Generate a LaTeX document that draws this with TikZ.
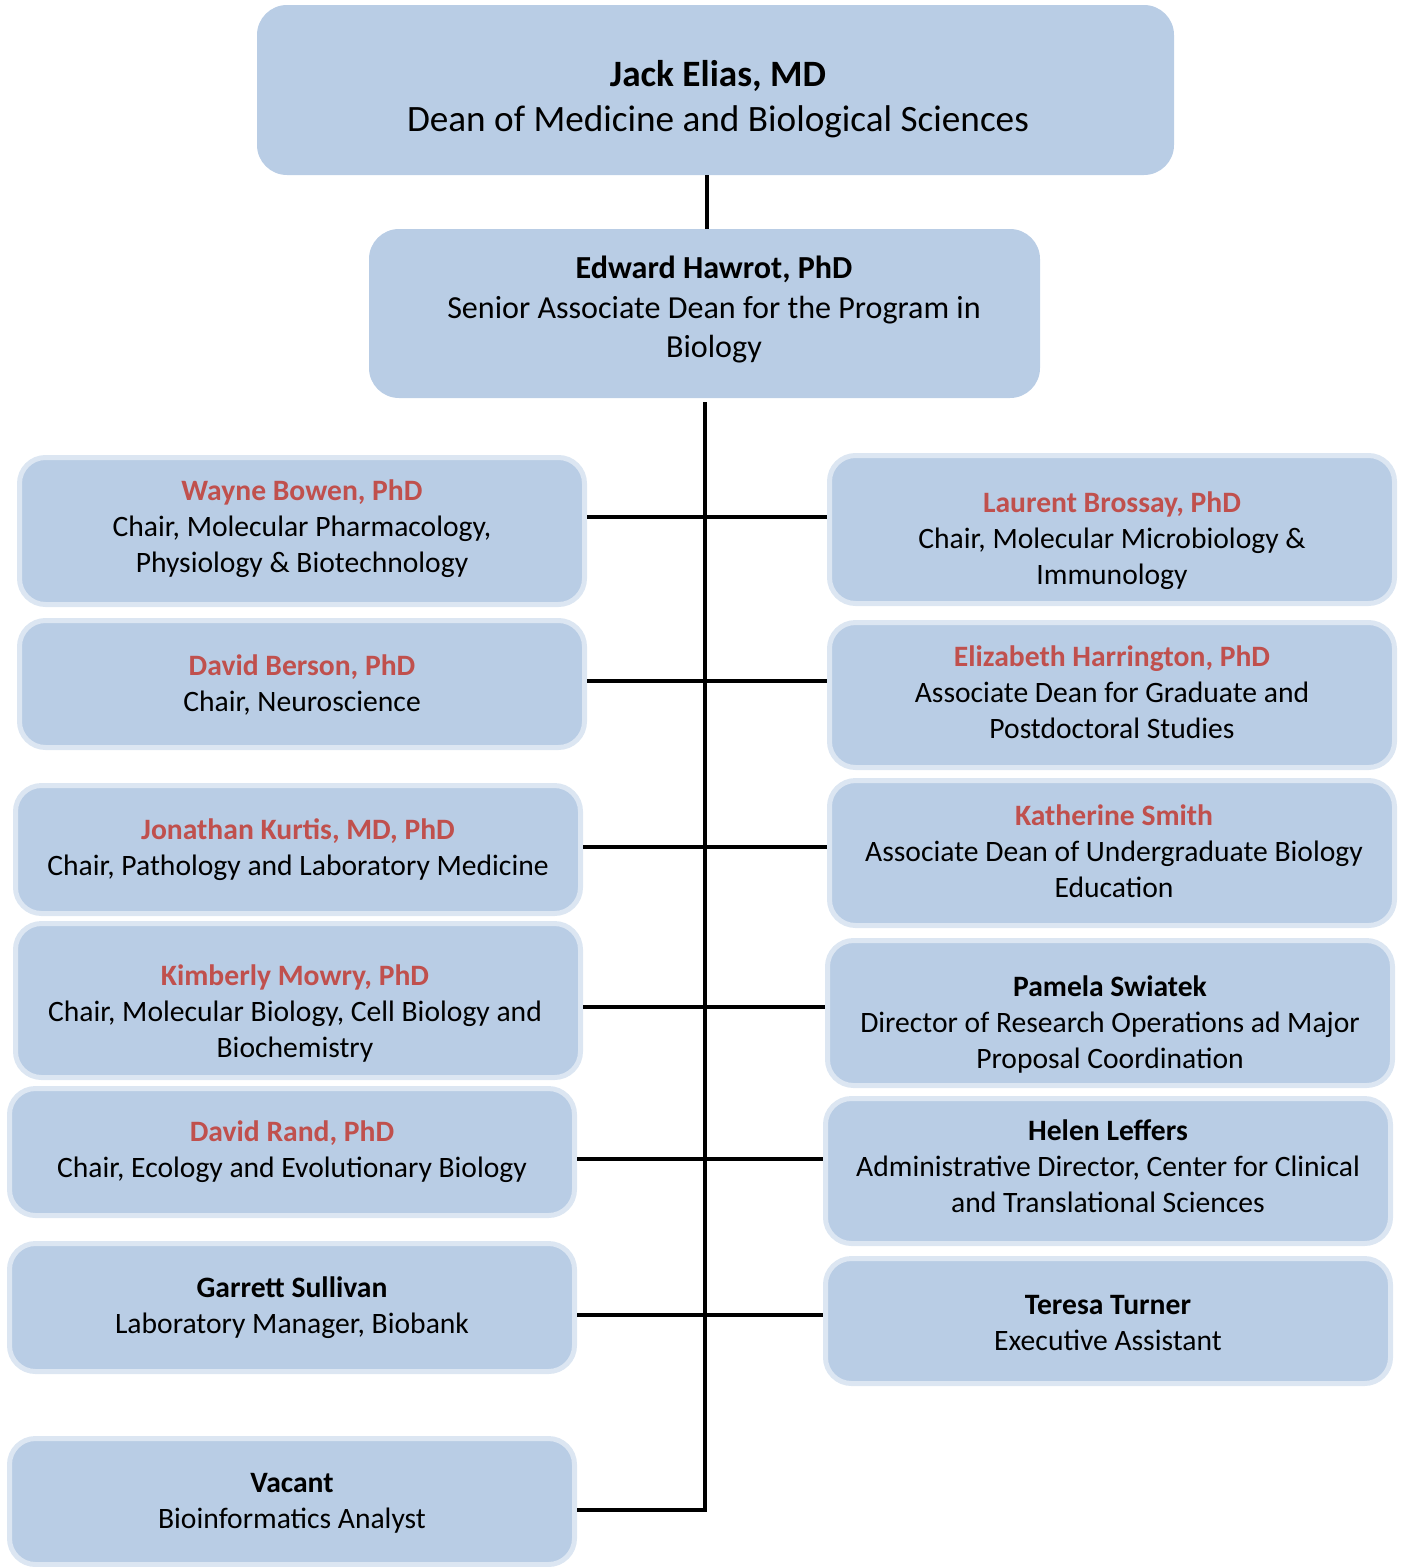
\documentclass[tikz,border=0pt]{standalone}
\usepackage{fontspec}
\setmainfont{Carlito}
\definecolor{boxc}{HTML}{B9CDE5}
\definecolor{haloc}{HTML}{DCE6F2}
\definecolor{namec}{HTML}{C0504D}
\newcommand{\rn}[1]{\textbf{\color{namec}#1}}
\begin{document}
\begin{tikzpicture}[x=1pt,y=-1pt,
  topbox/.style={fill=boxc, rounded corners=30pt, inner sep=0pt},
  orgbox/.style={fill=boxc, draw=haloc, line width=5pt, rounded corners=26pt, inner sep=0pt,
    minimum width=565pt},
  txt/.style={align=center, inner sep=0pt, yshift=-3pt, font=\fontsize{29.6}{36}\selectfont},
  link/.style={line width=4.5pt, black}]
\useasboundingbox (0,0) rectangle (1403,1567);

% top of the hierarchy
\node[topbox, minimum width=917pt, minimum height=170pt] (jack) at (715.5,90) {};
\node[txt, font=\fontsize{37.2}{45}\selectfont] (jackt) at (718,96.5)
  {\textbf{Jack Elias, MD}\\Dean of Medicine and Biological Sciences};
\node[topbox, minimum width=671pt, minimum height=169pt] (edward) at (704.5,313.5) {};
\node[txt, font=\fontsize{32.1}{39.5}\selectfont] (edwardt) at (714,306.5)
  {\textbf{Edward Hawrot, PhD}\\Senior Associate Dean for the Program in\\Biology};

% left column
\node[orgbox, minimum height=147pt] (wayne) at (302,531) {};
\node[txt] (waynet) at (302,526) {\rn{Wayne Bowen, PhD}\\Chair, Molecular Pharmacology,\\Physiology \& Biotechnology};
\node[orgbox, minimum height=127pt] (berson) at (302,684) {};
\node[txt] (bersont) at (302,681.5) {\rn{David Berson, PhD}\\Chair, Neuroscience};
\node[orgbox, minimum height=128pt] (kurtis) at (298,849.5) {};
\node[txt] (kurtist) at (298,847) {\rn{Jonathan Kurtis, MD, PhD}\\Chair, Pathology and Laboratory Medicine};
\node[orgbox, minimum height=154pt] (mowry) at (298,1000.5) {};
\node[txt] (mowryt) at (295,1010.5) {\rn{Kimberly Mowry, PhD}\\Chair, Molecular Biology, Cell Biology and\\Biochemistry};
\node[orgbox, minimum height=127pt] (rand) at (292,1152) {};
\node[txt] (randt) at (292,1149) {\rn{David Rand, PhD}\\Chair, Ecology and Evolutionary Biology};
\node[orgbox, minimum height=128pt] (sullivan) at (292,1307.5) {};
\node[txt] (sullivant) at (292,1305) {\textbf{Garrett Sullivan}\\Laboratory Manager, Biobank};
\node[orgbox, minimum height=126pt] (vacant) at (292,1501.5) {};
\node[txt] (vacantt) at (292,1500) {\textbf{Vacant}\\Bioinformatics Analyst};

% right column
\node[orgbox, minimum height=148pt] (brossay) at (1112,529.5) {};
\node[txt] (brossayt) at (1112,538) {\rn{Laurent Brossay, PhD}\\Chair, Molecular Microbiology \&\\Immunology};
\node[orgbox, minimum height=145pt] (harrington) at (1112,695) {};
\node[txt] (harringtont) at (1112,689.5) {\rn{Elizabeth Harrington, PhD}\\Associate Dean for Graduate and\\Postdoctoral Studies};
\node[orgbox, minimum height=145pt] (smith) at (1112,853) {};
\node[txt] (smitht) at (1114,848) {\rn{Katherine Smith}\\Associate Dean of Undergraduate Biology\\Education};
\node[orgbox, minimum height=145pt] (swiatek) at (1110,1013) {};
\node[txt] (swiatekt) at (1110,1021) {\textbf{Pamela Swiatek}\\Director of Research Operations ad Major\\Proposal Coordination};
\node[orgbox, minimum height=145pt] (leffers) at (1108,1171) {};
\node[txt] (leffersty) at (1108,1163) {\textbf{Helen Leffers}\\Administrative Director, Center for Clinical\\and Translational Sciences};
\node[orgbox, minimum height=125pt] (turner) at (1108,1321) {};
\node[txt] (turnert) at (1108,1320) {\textbf{Teresa Turner}\\Executive Assistant};

% spine and branches
\coordinate (s0) at (707,0);
\coordinate (sp) at (705,0);
\coordinate (b1) at (705,517);
\coordinate (b2) at (705,681);
\coordinate (b3) at (705,847);
\coordinate (b4) at (705,1007);
\coordinate (b5) at (705,1159);
\coordinate (b6) at (705,1315);
\coordinate (b7) at (705,1510);

\draw[link] (jack.south -| s0) -- (edward.north -| s0);
\draw[link] ([yshift=-4pt]edward.south -| sp) -- (b7) -- (vacant.east |- b7);
\draw[link] (wayne.east |- b1) -- (brossay.west |- b1);
\draw[link] (berson.east |- b2) -- (harrington.west |- b2);
\draw[link] (kurtis.east |- b3) -- (smith.west |- b3);
\draw[link] (mowry.east |- b4) -- (swiatek.west |- b4);
\draw[link] (rand.east |- b5) -- (leffers.west |- b5);
\draw[link] (sullivan.east |- b6) -- (turner.west |- b6);
\end{tikzpicture}
\end{document}
